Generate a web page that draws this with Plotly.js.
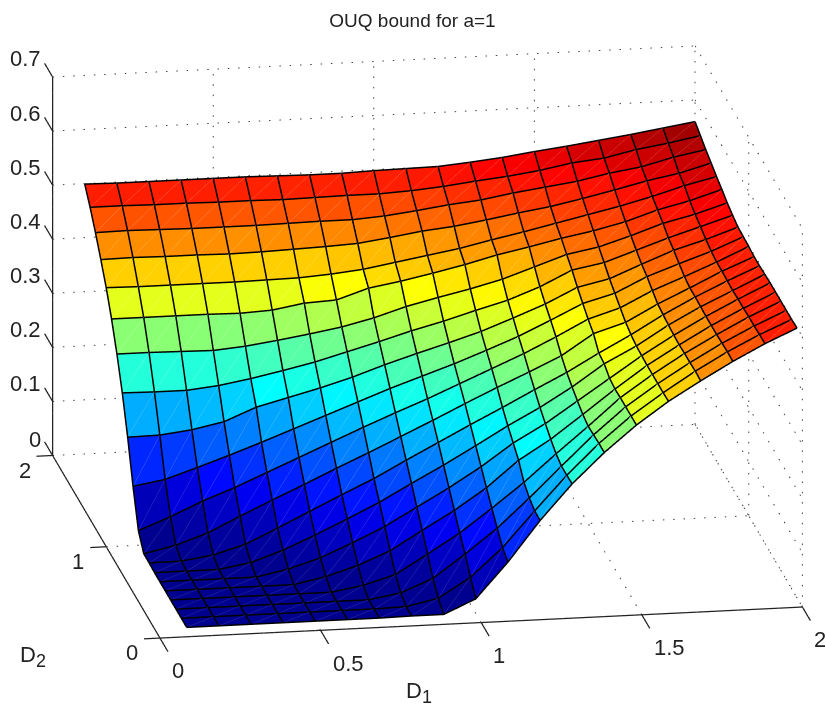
<!DOCTYPE html>
<html><head><meta charset="utf-8">
<script src="https://cdn.plot.ly/plotly-3.0.1.min.js"></script>
<style>html,body{margin:0;padding:0;background:#fff}#c{width:825px;height:709px}</style>
</head><body><div id="c"></div>
<script>
// grid positions on both axes
const gridD = [0.1,0.2,0.3,0.4,0.5,0.6,0.7,0.8,0.9,1.0,1.1,1.2,1.3,1.4,1.5,1.6,1.7,1.8,1.9,2.0];
// values; the surface is symmetric in D1/D2, row n holds D1 = 0.1 .. D2
const r01=[0];
const r02=[0,0];
const r03=[0,0,0];
const r04=[0,0,0,0];
const r05=[0,0,0,0,0];
const r06=[0,0,0,0,0.012,0.03];
const r07=[0,0,0,0.01,0.03,0.055,0.082];
const r08=[0.001,0.0015,0.01,0.027,0.054,0.082,0.11,0.137];
const r09=[0.001,0.014,0.034,0.062,0.089,0.115,0.142,0.168,0.195];
const r10=[0.027,0.05,0.076,0.098,0.123,0.148,0.173,0.198,0.222,0.245];
const r11=[0.092,0.102,0.121,0.141,0.162,0.184,0.206,0.228,0.25,0.27,0.29];
const r12=[0.166,0.167,0.174,0.186,0.21,0.225,0.24,0.257,0.277,0.295,0.312,0.33];
const r13=[0.231,0.23,0.23,0.236,0.246,0.258,0.271,0.287,0.303,0.32,0.335,0.352,0.368];
const r14=[0.286,0.286,0.285,0.284,0.289,0.297,0.306,0.316,0.33,0.348,0.362,0.375,0.39,0.41];
const r15=[0.334,0.334,0.334,0.334,0.333,0.336,0.346,0.349,0.368,0.378,0.39,0.403,0.418,0.43,0.443];
const r16=[0.375,0.374,0.374,0.374,0.374,0.375,0.376,0.38,0.386,0.396,0.406,0.416,0.429,0.441,0.454,0.467];
const r17=[0.41,0.411,0.41,0.41,0.409,0.41,0.412,0.414,0.417,0.425,0.434,0.44,0.449,0.459,0.468,0.48,0.493];
const r18=[0.443,0.444,0.443,0.442,0.442,0.442,0.443,0.444,0.444,0.448,0.455,0.463,0.469,0.479,0.487,0.495,0.507,0.516];
const r19=[0.473,0.473,0.472,0.472,0.471,0.471,0.47,0.471,0.472,0.472,0.475,0.48,0.487,0.493,0.501,0.512,0.518,0.531,0.54];
const r20=[0.499,0.498,0.498,0.498,0.498,0.498,0.497,0.496,0.496,0.498,0.499,0.5,0.505,0.511,0.519,0.526,0.534,0.542,0.551,0.56];
const rows=[r01,r02,r03,r04,r05,r06,r07,r08,r09,r10,r11,r12,r13,r14,r15,r16,r17,r18,r19,r20];
const zAt=(i,j)=>rows[Math.max(i,j)][Math.min(i,j)];

const d1Ticks=[0,0.5,1,1.5,2], d1Labels=['0','0.5','1','1.5','2'];
const d2Ticks=[0,1,2], d2Labels=['0','1','2'];
const zTicks=[0,0.1,0.2,0.3,0.4,0.5,0.6,0.7], zLabels=['0','0.1','0.2','0.3','0.4','0.5','0.6','0.7'];
const jet=[[0,'rgb(0,0,143)'],[0.125,'rgb(0,0,255)'],[0.375,'rgb(0,255,255)'],[0.625,'rgb(255,255,0)'],[0.875,'rgb(255,0,0)'],[1,'rgb(128,0,0)']];
const jetLight=[[0,'rgb(45,45,165)'],[0.125,'rgb(60,60,255)'],[0.375,'rgb(70,255,255)'],[0.625,'rgb(255,255,70)'],[0.875,'rgb(255,60,60)'],[1,'rgb(160,50,50)']];

const n=gridD.length;
// view-direction lift (data units) so that wire lines sit just in front of the faces
const liftX=-0.00166, liftY=-0.00995, liftZ=0.00176;
// mesh: two triangles per cell, coloured by the cell's low corner
const vx=[],vy=[],vz=[],I=[],J=[],K=[],cell=[];
for(let j=0;j<n;j++)for(let i=0;i<n;i++){vx.push(gridD[i]);vy.push(gridD[j]);vz.push(zAt(i,j));}
for(let j=0;j<n-1;j++)for(let i=0;i<n-1;i++){
  const a=j*n+i,b=a+1,c=a+n,d=c+1;
  I.push(a,a);J.push(b,d);K.push(d,c);
  cell.push(zAt(i,j),zAt(i,j));
}
// wire lines and faint cell diagonals
const gx=[],gy=[],gz=[],hx=[],hy=[],hz=[],hc=[];
const gp=(i,j)=>{gx.push(gridD[i]+liftX);gy.push(gridD[j]+liftY);gz.push(zAt(i,j)+liftZ);};
const gb=()=>{gx.push(null);gy.push(null);gz.push(null);};
for(let j=0;j<n;j++){for(let i=0;i<n;i++)gp(i,j);gb();}
for(let i=0;i<n;i++){for(let j=0;j<n;j++)gp(i,j);gb();}
for(let j=0;j<n-1;j++)for(let i=0;i<n-1;i++){
  hx.push(gridD[i]+liftX,gridD[i+1]+liftX,null);
  hy.push(gridD[j]+liftY,gridD[j+1]+liftY,null);
  hz.push(zAt(i,j)+liftZ,zAt(i+1,j+1)+liftZ,null);
  hc.push(zAt(i,j),zAt(i,j),zAt(i,j));
}
function segs(list){const x=[],y=[],z=[];list.forEach(s=>{x.push(s[0],s[3],null);y.push(s[1],s[4],null);z.push(s[2],s[5],null);});return {x,y,z};}
// dotted grid: short strokes every ~10 px along each guide line
const pxD1=321, pxZ=538.6, gap=10.3, stroke=1.5;
function dotted(s,o){
  const dx=s[3]-s[0],dy=s[4]-s[1],dz=s[5]-s[2];
  const lenPx=Math.abs(dx*pxD1)+Math.abs(dz*pxZ)+(dx?0:Math.abs(dy)*211/2);
  const cnt=Math.floor(lenPx/gap);
  for(let k=0;k<=cnt;k++){
    const t=k*gap/lenPx,t2=(k*gap+stroke)/lenPx;
    o.push([s[0]+dx*t,s[1]+dy*t,s[2]+dz*t,s[0]+dx*t2,s[1]+dy*t2,s[2]+dz*t2]);
  }
}
const dots=[];
d1Ticks.forEach(v=>{dotted([v,0,0,v,2,0],dots);dotted([v,2,0,v,2,0.7],dots);});
d2Ticks.forEach(v=>{dotted([0,v,0,2,v,0],dots);dotted([2,v,0,2,v,0.7],dots);});
zTicks.forEach(v=>{dotted([0,2,v,2,2,v],dots);dotted([2,2,v,2,0,v],dots);});
const axes=[[0,0,0,2,0,0],[0,0,0,0,2,0],[0,2,0,0,2,0.7]];
d1Ticks.forEach(v=>axes.push([v,0,0,v,-0.15,0]));
d2Ticks.forEach(v=>axes.push([0,v,0,-0.05,v,0]));
zTicks.forEach(v=>axes.push([0,2,v,0,2.15,v]));

const line=(s,o)=>Object.assign({type:'scatter3d',mode:'lines',hoverinfo:'skip',showlegend:false},s,{line:o});
const data=[
 {type:'mesh3d',x:vx,y:vy,z:vz,i:I,j:J,k:K,intensity:cell,intensitymode:'cell',colorscale:jet,cmin:0,cmax:0.56,showscale:false,flatshading:true,hoverinfo:'skip',
  lighting:{ambient:1,diffuse:0,specular:0,roughness:1,fresnel:0}},
 line({x:hx,y:hy,z:hz},{color:hc,colorscale:jetLight,cmin:0,cmax:0.56,showscale:false,width:1}),
 line({x:gx,y:gy,z:gz},{color:'#000',width:3}),
 line(segs(dots),{color:'#444',width:2}),
 line(segs(axes),{color:'#222',width:2.5})
];
const fnt={family:'Liberation Sans, Arial, sans-serif',size:22,color:'#222'};
const ann=[];
const add=(x,y,z,text,xs,ys,xa)=>ann.push({x,y,z,text,showarrow:false,xshift:xs,yshift:ys,xanchor:xa||'center',yanchor:'middle',font:fnt});
zTicks.forEach((v,i)=>add(0,2,v,zLabels[i],-10,i==0?16:18,'right'));
d2Ticks.forEach((v,i)=>add(0,v,0,d2Labels[i],-28,-15));
d1Ticks.forEach((v,i)=>add(v,0,0,d1Labels[i],d1Labels[i].length>1?28:18,-33));

const axisOff={visible:false,showgrid:false,zeroline:false,showline:false,showticklabels:false,showspikes:false,showbackground:false};
const el=1.05;
const sub=t=>'D<sub><span style="font-size:18px">'+t+'</span></sub>';
const layout={
 width:825,height:709,margin:{l:0,r:0,t:0,b:0},paper_bgcolor:'#fff',
 title:{text:'OUQ bound for a=1',x:0.5,xanchor:'center',y:0.972,yanchor:'middle',font:{family:'Liberation Sans, Arial, sans-serif',size:19,color:'#222'}},
 annotations:[
  {xref:'paper',yref:'paper',x:419/825,y:1-692/709,text:sub('1'),showarrow:false,font:fnt,xanchor:'center',yanchor:'middle'},
  {xref:'paper',yref:'paper',x:33/825,y:1-656/709,text:sub('2'),showarrow:false,font:fnt,xanchor:'center',yanchor:'middle'}
 ],
 scene:{
  domain:{x:[0.0364,1],y:[0.0382,0.9972]},
  xaxis:Object.assign({range:[-0.05,2.05]},axisOff),
  yaxis:Object.assign({range:[-0.15,2.15]},axisOff),
  zaxis:Object.assign({range:[0,0.7]},axisOff),
  aspectmode:'manual',aspectratio:{x:2.012,y:2.185,z:1.162},
  camera:{projection:{type:'orthographic'},up:{x:0,y:0,z:1},center:{x:0,y:0,z:0},eye:{x:-0.1592*el,y:-0.9446*el,z:0.2866*el}},
  annotations:ann
 }
};
Plotly.newPlot('c',data,layout,{displayModeBar:false});
</script></body></html>
